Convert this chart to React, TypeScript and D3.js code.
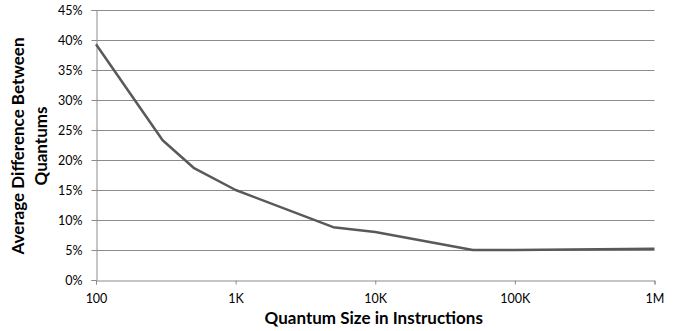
import React, { useEffect, useRef } from "react";
import * as d3 from "d3";

// quantum sizes (instructions) and average difference (%)
const quantumSizes = [100, 300, 500, 1000, 5000, 10000, 50000, 100000, 1000000];
const avgDifference = [39.3, 23.3, 18.7, 15.0, 8.8, 8.0, 5.0, 5.0, 5.2];

const yTicks = [0, 5, 10, 15, 20, 25, 30, 35, 40, 45];
const xTicks = [100, 1000, 10000, 100000, 1000000];
const xTickLabels = ["100", "1K", "10K", "100K", "1M"];

const xTitle = "Quantum Size in Instructions";
const yTitleLines = ["Average Difference Between", "Quantums"];

export default function App() {
  const ref = useRef<SVGSVGElement>(null);

  useEffect(() => {
    const W = 683, H = 331;
    const margin = { top: 10, right: 28.5, bottom: 51, left: 96 };
    const w = W - margin.left - margin.right;
    const h = H - margin.top - margin.bottom;
    const font = "Lato, 'Noto Sans', sans-serif";

    const svg = d3.select(ref.current);
    svg.selectAll("*").remove();

    const g = svg.append("g").attr("transform", `translate(${margin.left},${margin.top})`);

    const x = d3.scaleLog().domain([100, 1000000]).range([0, w]);
    const y = d3.scaleLinear().domain([0, 45]).range([h, 0]);

    // gridlines
    g.selectAll(".grid")
      .data(yTicks.filter((t) => t > 0))
      .join("line")
      .attr("class", "grid")
      .attr("x1", 0)
      .attr("x2", w)
      .attr("y1", (d) => Math.round(y(d)) + 0.5)
      .attr("y2", (d) => Math.round(y(d)) + 0.5)
      .attr("stroke", "#8c8c8c")
      .attr("stroke-width", 1);

    // y axis
    const yAxis = g
      .append("g")
      .attr("transform", "translate(0.5,0)")
      .call(
        d3
          .axisLeft(y)
          .tickValues(yTicks)
          .tickSize(5)
          .tickPadding(9)
          .tickFormat((d) => `${d}%`)
      );
    yAxis.selectAll("line").attr("stroke", "#8c8c8c");
    yAxis.select(".domain").attr("stroke", "#8c8c8c");
    yAxis.selectAll("text").attr("font-family", font).attr("font-size", 12.5).attr("fill", "#000");

    // x axis
    const xAxis = g
      .append("g")
      .attr("transform", `translate(0,${Math.round(h) + 0.5})`)
      .call(
        d3
          .axisBottom(x)
          .tickValues(xTicks)
          .tickSize(4)
          .tickPadding(10)
          .tickFormat((d, i) => xTickLabels[i])
      );
    xAxis.selectAll("line").attr("stroke", "#8c8c8c");
    xAxis.select(".domain").attr("stroke", "#8c8c8c");
    xAxis.selectAll("text").attr("font-family", font).attr("font-size", 12.5).attr("fill", "#000");

    // line
    const line = d3
      .line<number>()
      .x((d, i) => x(quantumSizes[i]))
      .y((d) => y(d));
    g.append("path")
      .datum(avgDifference)
      .attr("d", line)
      .attr("fill", "none")
      .attr("stroke", "#595959")
      .attr("stroke-width", 2.5)
      .attr("stroke-linejoin", "round");

    // x title
    svg
      .append("text")
      .attr("x", margin.left + w / 2 - 1.5)
      .attr("y", 324)
      .attr("text-anchor", "middle")
      .attr("font-family", font)
      .attr("font-weight", "bold")
      .attr("font-size", 17)
      .text(xTitle);

    // y title
    const yt = svg
      .append("text")
      .attr("transform", "translate(0,146) rotate(-90)")
      .attr("text-anchor", "middle")
      .attr("font-family", font)
      .attr("font-weight", "bold")
      .attr("font-size", 17);
    yTitleLines.forEach((t, i) => {
      yt.append("tspan").attr("x", 0).attr("y", 24 + i * 23).text(t);
    });
  }, []);

  return (
    <svg
      ref={ref}
      width={683}
      height={331}
      style={{ position: "absolute", left: 0, top: 0, background: "#fff" }}
    />
  );
}
